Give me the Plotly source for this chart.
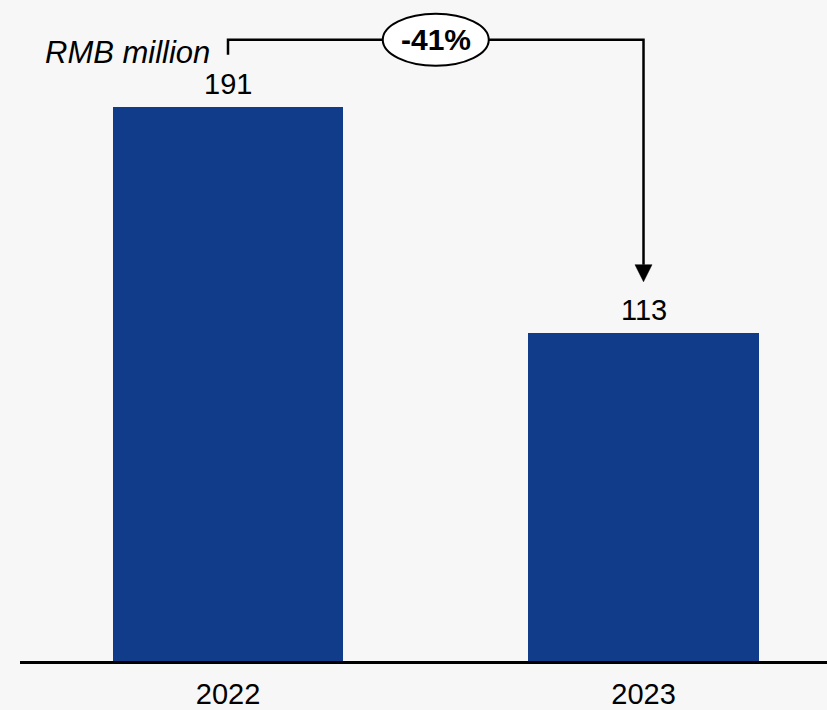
import plotly.graph_objects as go

categories = ["2022", "2023"]
values = [191, 113]
unit_label = "RMB million"
change_label = "-41%"

BAR_COLOR = "#103C8A"
BG = "#F7F7F7"
FONT = "Liberation Sans, Arial, sans-serif"
FS = 29

xs = list(range(len(categories)))

# vertical scale: pixels per unit (plot height 664 px)
plot_h = 664
y_max = 227.8
ppu = plot_h / y_max

def px_to_val(px_from_top):
    return (plot_h - px_from_top) / ppu

bracket_y = px_to_val(40)
tick_bottom = px_to_val(55)
tip_y = px_to_val(283)
head_h = 17
head_base = tip_y + head_h / ppu

fig = go.Figure()
fig.add_trace(go.Bar(
    x=xs, y=values, width=0.554, marker=dict(color=BAR_COLOR, line=dict(width=0)),
    hoverinfo="skip", showlegend=False,
))

shapes = []
# bracket line
shapes.append(dict(
    type="path", xref="x", yref="y",
    path=f"M {xs[0]},{tick_bottom} L {xs[0]},{bracket_y} L {xs[1]},{bracket_y} L {xs[1]},{head_base}",
    line=dict(color="black", width=2.5), layer="above",
))
# arrow head
shapes.append(dict(
    type="path", xref="x", yref="y", xsizemode="pixel", ysizemode="pixel",
    xanchor=xs[1], yanchor=tip_y,
    path="M -8.5,17 L 8.5,17 L 0,0 Z",
    fillcolor="black", line=dict(color="black", width=0.5), layer="above",
))
# ellipse
mid = (xs[0] + xs[1]) / 2
shapes.append(dict(
    type="circle", xref="x", yref="y", xsizemode="pixel", ysizemode="pixel",
    xanchor=mid, yanchor=bracket_y, x0=-53, x1=53, y0=-26, y1=26,
    fillcolor="white", line=dict(color="black", width=2), layer="above",
))

annotations = []
for x, v in zip(xs, values):
    annotations.append(dict(
        x=x, y=v, xref="x", yref="y", text=str(v), showarrow=False,
        yanchor="middle", yshift=23, font=dict(family=FONT, size=FS, color="black"),
    ))
annotations.append(dict(
    x=mid, y=bracket_y, xref="x", yref="y", text=f"<b>{change_label}</b>", showarrow=False,
    yanchor="middle", xanchor="center", font=dict(family=FONT, size=30, color="black"),
))
annotations.append(dict(
    x=xs[0], y=px_to_val(53), xref="x", yref="y", text=f"<i>{unit_label}</i>", showarrow=False,
    xanchor="right", yanchor="middle", xshift=-16, font=dict(family=FONT, size=31, color="black"),
))

fig.update_layout(
    width=827, height=710,
    margin=dict(l=20, r=0, t=0, b=46),
    paper_bgcolor=BG, plot_bgcolor=BG,
    shapes=shapes, annotations=annotations,
    xaxis=dict(
        range=[-0.5006, 1.4416], tickvals=xs, ticktext=categories,
        showline=True, linecolor="black", linewidth=2.5, showgrid=False, zeroline=False,
        ticks="outside", ticklen=5, tickcolor="rgba(0,0,0,0)",
        tickfont=dict(family=FONT, size=FS, color="black"), fixedrange=True,
    ),
    yaxis=dict(range=[0, y_max], visible=False, showgrid=False, zeroline=False, fixedrange=True),
    font=dict(family=FONT),
    bargap=0,
)

fig.write_html(
    "out.html",
    config={"displayModeBar": False},
    post_script="document.body.style.margin='0';document.body.style.overflow='hidden';document.body.style.background='#F7F7F7';",
)
